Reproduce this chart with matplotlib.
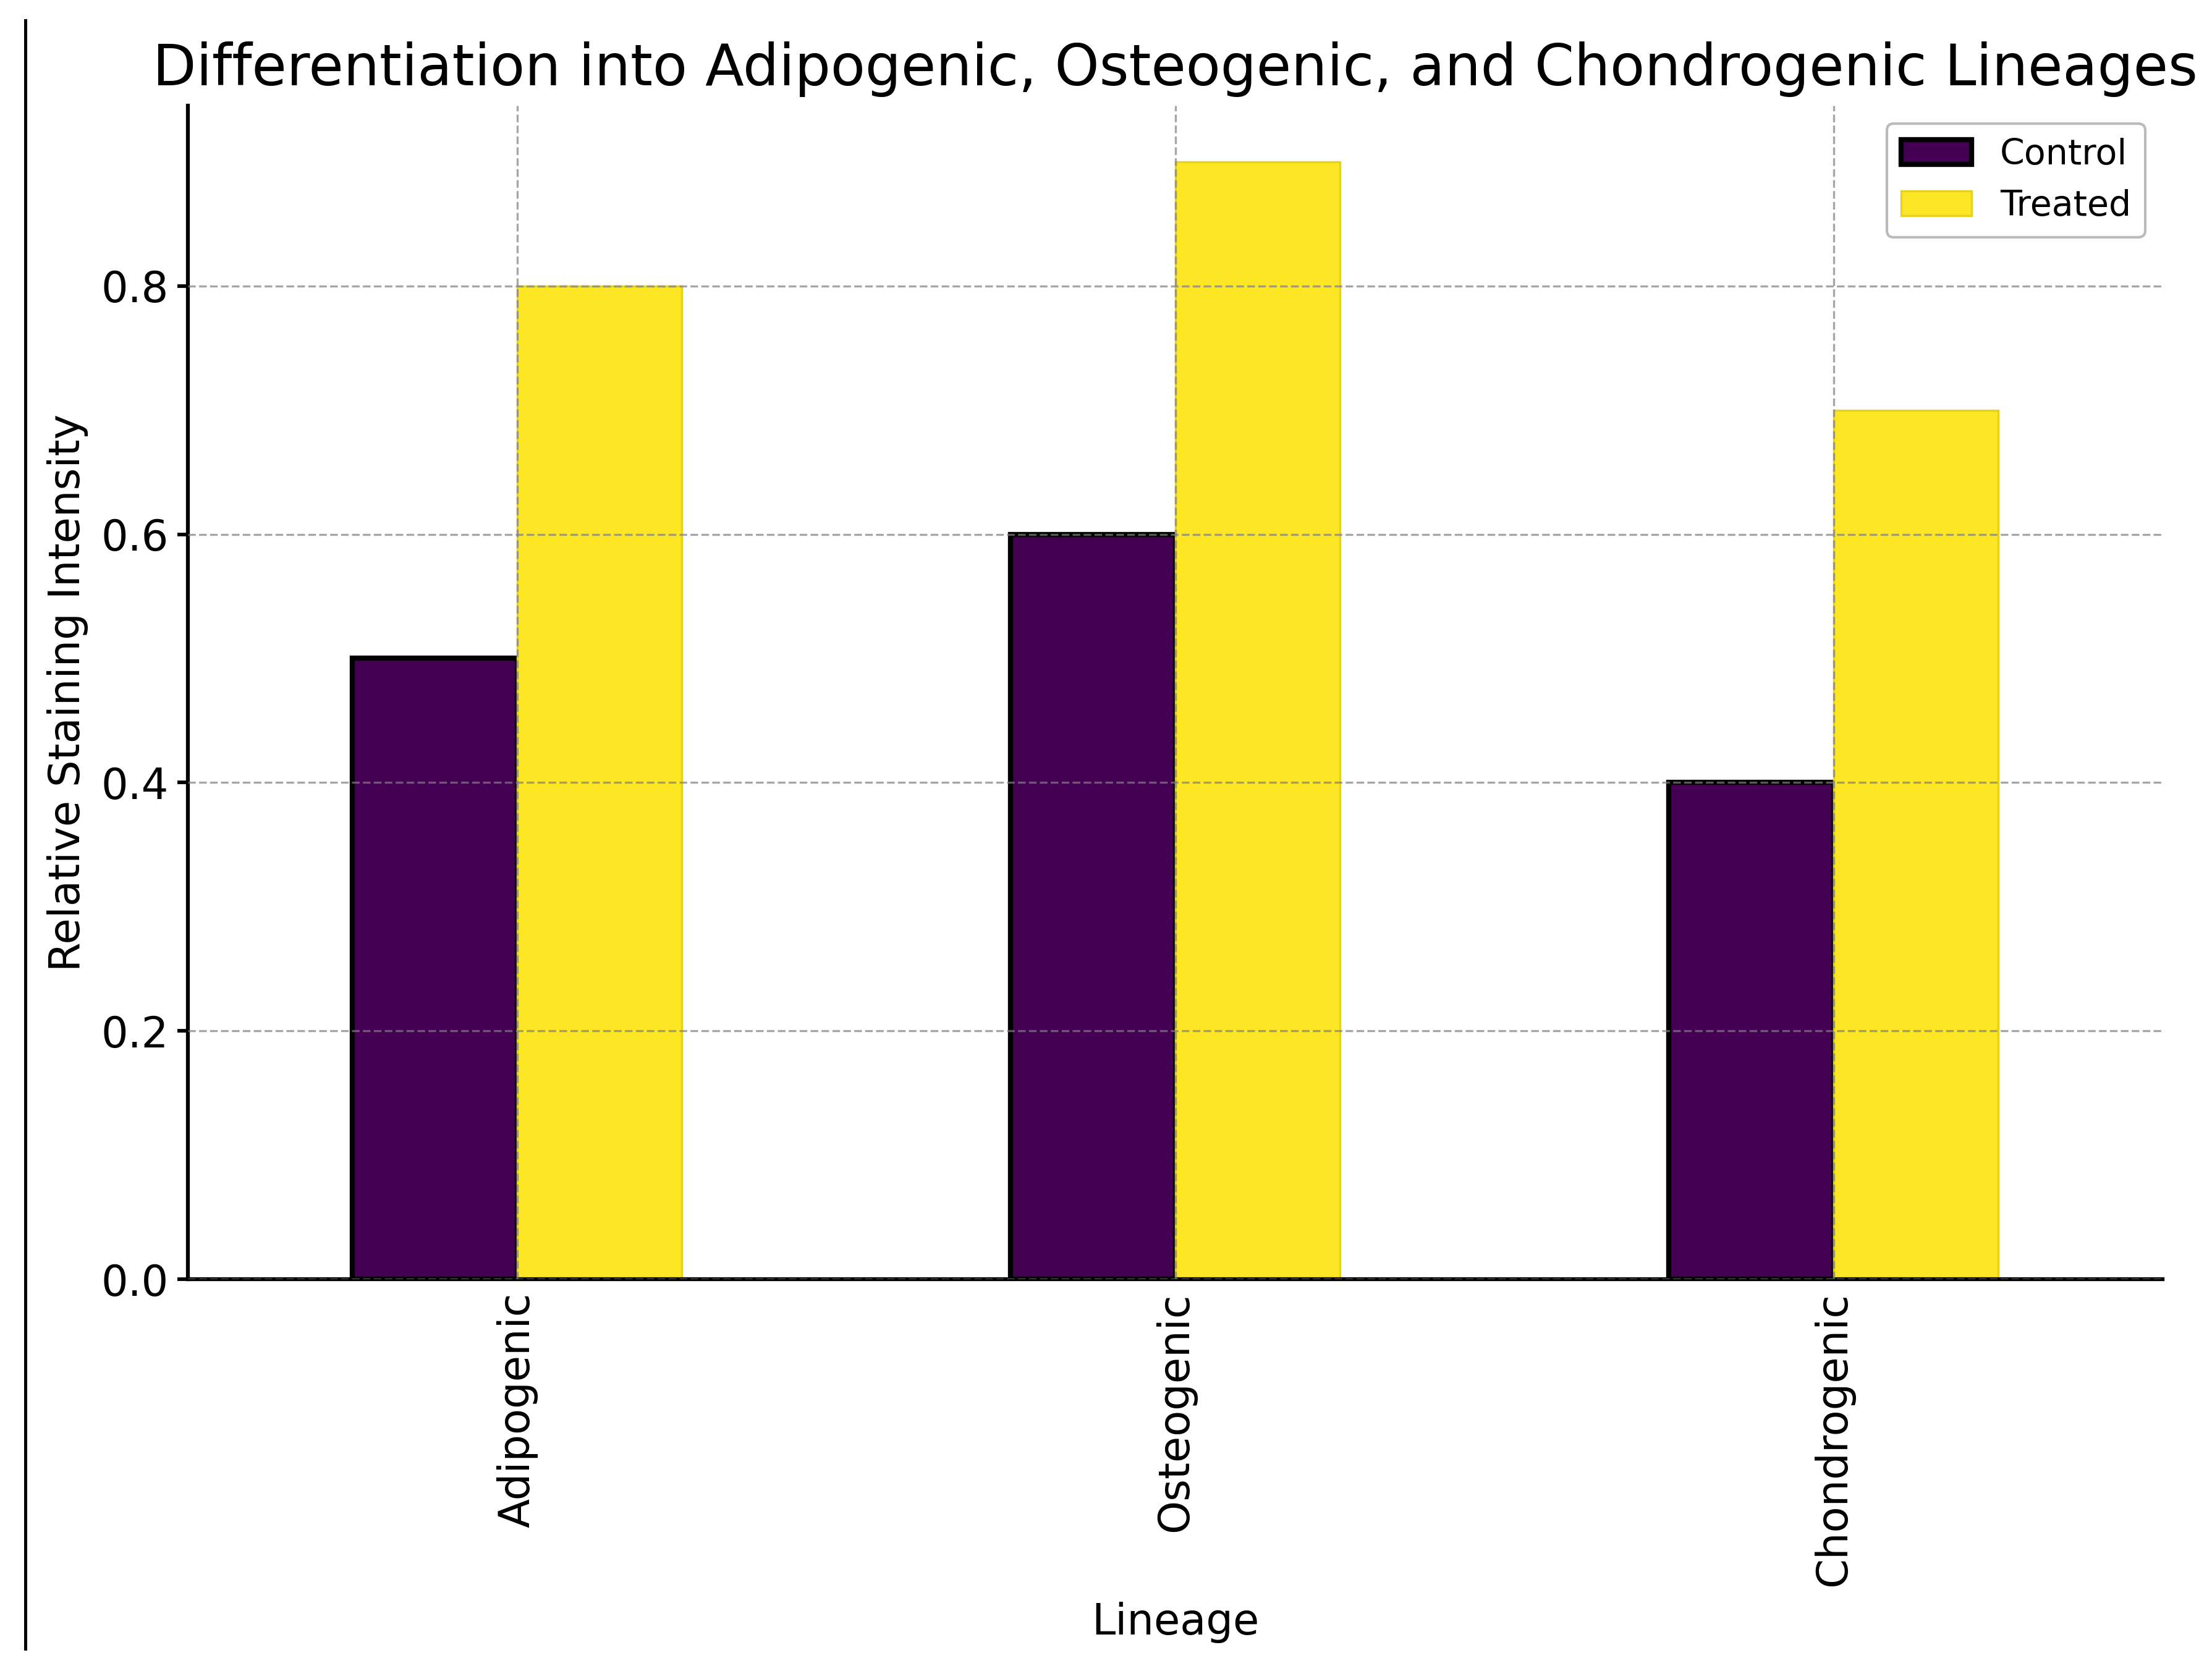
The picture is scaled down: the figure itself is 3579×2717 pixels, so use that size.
import numpy as np
import matplotlib
matplotlib.use('Agg')
import matplotlib.pyplot as plt
from matplotlib.lines import Line2D

lineages = ['Adipogenic', 'Osteogenic', 'Chondrogenic']
control = [0.5, 0.6, 0.4]
treated = [0.8, 0.9, 0.7]
seriesNames = ['Control', 'Treated']

fig = plt.figure(figsize = (3579 / 300, 2717 / 300), dpi = 300)
ax = fig.add_axes([0.085, 0.238, 0.8927, 0.699])

x = np.arange(len(lineages))
width = 0.25
ax.bar(x - width / 2, control, width, color = '#440154', edgecolor = 'black', linewidth = 2.0, label = seriesNames[0])
ax.bar(x + width / 2, treated, width, color = '#fde725', edgecolor = '#e6d21c', linewidth = 0.8, label = seriesNames[1])

ax.set_xlim(-0.5, len(lineages) - 0.5)
ax.set_xticks(x)
ax.set_xticklabels(lineages, rotation = 90, fontsize = 16.5)
ax.set_yticks([0.0, 0.2, 0.4, 0.6, 0.8])
ax.tick_params(axis = 'y', labelsize = 16.5, width = 1.4, length = 4)
ax.tick_params(axis = 'x', length = 0, pad = 5)

ax.grid(True, linestyle = '--', color = 'gray', alpha = 0.7, linewidth = 0.8)
ax.set_axisbelow(False)

for side in ['top', 'right']:
	ax.spines[side].set_visible(False)
for side in ['left', 'bottom']:
	ax.spines[side].set_linewidth(1.5)

ax.set_title('Differentiation into Adipogenic, Osteogenic, and Chondrogenic Lineages', fontsize = 22, pad = 8)
ax.set_xlabel('Lineage', fontsize = 16.5, labelpad = 6)
ax.set_ylabel('Relative Staining Intensity', fontsize = 16.5, labelpad = 5)
ax.legend(loc = 'upper right', fontsize = 13.7, frameon = True, edgecolor = '#aaaaaa')

# thin border line at the left edge of the picture
fig.add_artist(Line2D([0.0115, 0.0115], [0.018, 0.988], transform = fig.transFigure, color = 'black', linewidth = 1.2))

fig.savefig('out.png', dpi = 300)
